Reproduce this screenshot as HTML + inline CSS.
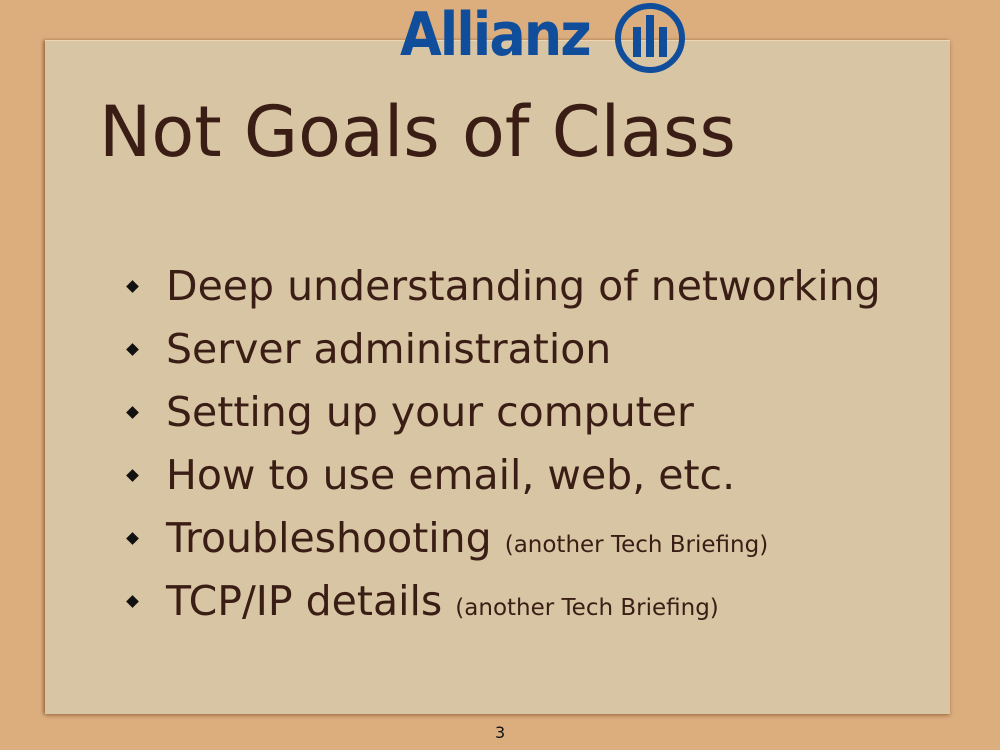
<!DOCTYPE html>
<html><head><meta charset="utf-8"><style>
html,body{margin:0;padding:0}
body{width:1000px;height:750px;position:relative;overflow:hidden;background:#dcae7e;font-family:"DejaVu Sans","Liberation Sans",sans-serif;color:#3a1d14}
.paper{position:absolute;left:45px;top:40px;width:905px;height:673px;background:#d8c5a4;box-shadow:-2px 0 3px rgba(120,70,30,.5),0 2px 4px rgba(120,70,30,.4);border-top:1px solid #eed6b0}
.t{position:absolute;white-space:nowrap}
.title{left:99px;top:92px;font-size:70px;line-height:80px}
.b{left:166px;font-size:41px;line-height:46px}
.b small{font-size:23px}
.d{position:absolute;left:128px;width:9px;height:9px;background:#111;transform:rotate(45deg)}
.logo{position:absolute;left:400px;top:2px;font-family:"DejaVu Sans",sans-serif;font-weight:bold;font-size:54px;color:#104e9c;letter-spacing:-2px;line-height:60px;transform:scaleY(1.1);transform-origin:left top}
</style></head><body>
<div class="paper"></div>
<div class="logo">Allianz</div>
<svg style="position:absolute;left:612px;top:1px" width="76" height="76" viewBox="0 0 76 76">
<circle cx="38" cy="37" r="32" fill="none" stroke="#104e9c" stroke-width="6"/>
<rect x="21" y="26" width="8" height="30" fill="#104e9c"/>
<rect x="34" y="14" width="8" height="42" fill="#104e9c"/>
<rect x="47" y="26" width="8" height="30" fill="#104e9c"/>
</svg>
<div class="t title">Not Goals of Class</div>
<div class="d" style="top:282px"></div><div class="t b" style="top:263px">Deep understanding of networking</div>
<div class="d" style="top:345px"></div><div class="t b" style="top:326px">Server administration</div>
<div class="d" style="top:408px"></div><div class="t b" style="top:389px">Setting up your computer</div>
<div class="d" style="top:471px"></div><div class="t b" style="top:452px">How to use email, web, etc.</div>
<div class="d" style="top:534px"></div><div class="t b" style="top:515px">Troubleshooting <small>(another Tech Briefing)</small></div>
<div class="d" style="top:597px"></div><div class="t b" style="top:578px">TCP/IP details <small>(another Tech Briefing)</small></div>
<div class="t" style="left:495px;top:723px;font-size:16px;color:#111">3</div>
</body></html>
